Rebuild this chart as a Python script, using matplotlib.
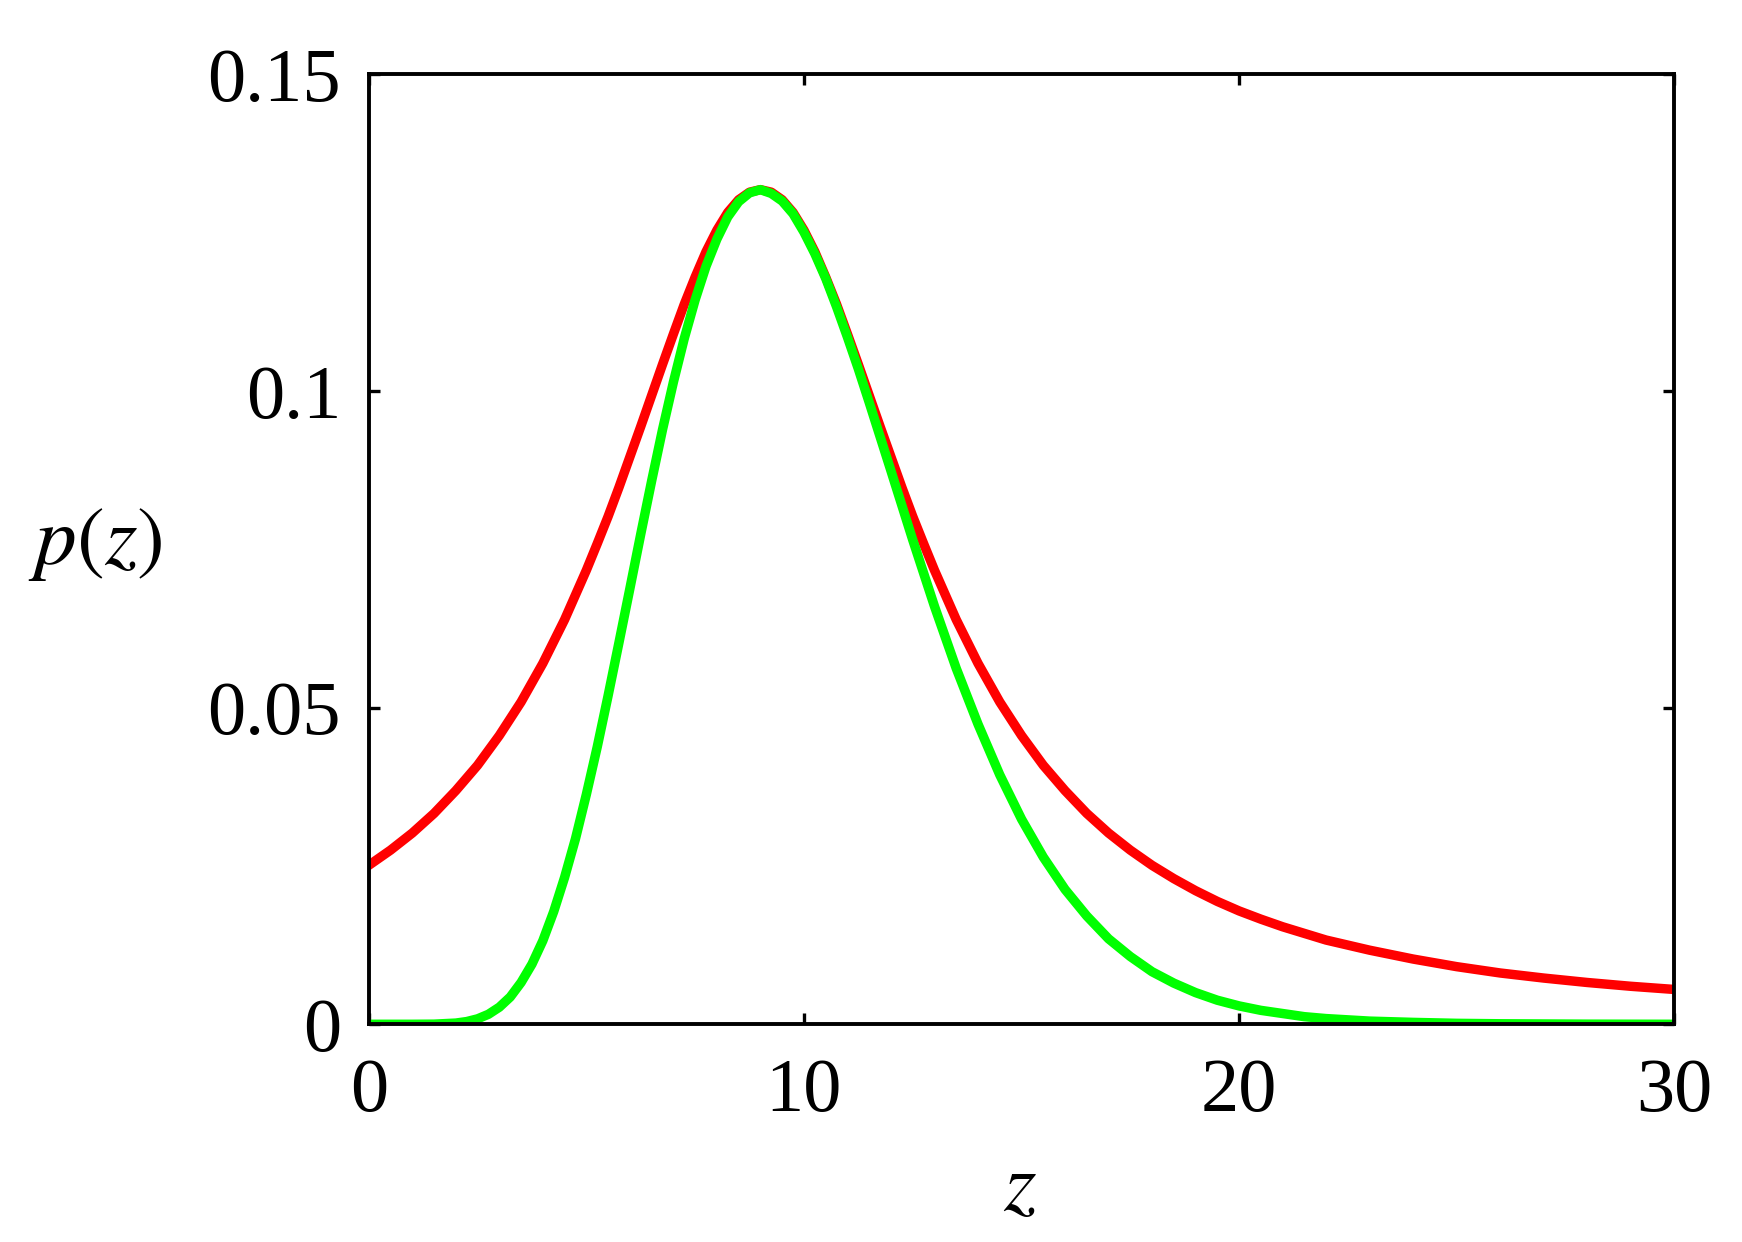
import matplotlib
matplotlib.use("Agg")
from matplotlib import pyplot as plt

# values
z_red = [0, 0.5, 1, 1.5, 2, 2.5, 3, 3.5, 4, 4.5, 5, 5.25, 5.5, 5.75, 6, 6.25,
         6.5, 6.75, 7, 7.25, 7.5, 7.75, 8, 8.25, 8.5, 8.75, 9, 9.25, 9.5,
         9.75, 10, 10.25, 10.5, 10.75, 11, 11.25, 11.5, 11.75, 12, 12.25,
         12.5, 12.75, 13, 13.5, 14, 14.5, 15, 15.5, 16, 16.5, 17, 17.5, 18,
         18.5, 19, 19.5, 20, 20.5, 21, 22, 23, 24, 25, 26, 27, 28, 29, 30]
p_red = [0.0251, 0.0275, 0.0302, 0.0333, 0.0369, 0.0409, 0.0456, 0.0509,
         0.0570, 0.0639, 0.0717, 0.0759, 0.0802, 0.0848, 0.0896, 0.0944,
         0.0993, 0.1042, 0.1090, 0.1137, 0.1180, 0.1220, 0.1254, 0.1282,
         0.1302, 0.1314, 0.1318, 0.1314, 0.1302, 0.1282, 0.1254, 0.1220,
         0.1180, 0.1137, 0.1090, 0.1042, 0.0993, 0.0944, 0.0896, 0.0848,
         0.0802, 0.0759, 0.0717, 0.0639, 0.0570, 0.0509, 0.0456, 0.0409,
         0.0369, 0.0333, 0.0302, 0.0275, 0.0251, 0.0230, 0.0211, 0.0194,
         0.0179, 0.0166, 0.0154, 0.0133, 0.0117, 0.0103, 0.0091, 0.0081,
         0.0073, 0.0066, 0.0060, 0.0055]

z_green = [0, 0.5, 1, 1.5, 2, 2.25, 2.5, 2.75, 3, 3.25, 3.5, 3.75, 4, 4.25,
           4.5, 4.75, 5, 5.25, 5.5, 5.75, 6, 6.25, 6.5, 6.75, 7, 7.25, 7.5,
           7.75, 8, 8.25, 8.5, 8.75, 9, 9.25, 9.5, 9.75, 10, 10.25, 10.5,
           10.75, 11, 11.25, 11.5, 11.75, 12, 12.5, 13, 13.5, 14, 14.5, 15,
           15.5, 16, 16.5, 17, 17.5, 18, 18.5, 19, 19.5, 20, 20.5, 21, 21.5,
           22, 23, 24, 25, 26, 28, 30]
p_green = [0.0, 0.0, 0.0, 0.00002, 0.00019, 0.00043, 0.00086, 0.00158,
           0.0027, 0.0043, 0.0066, 0.0095, 0.0132, 0.0178, 0.0232, 0.0293,
           0.0363, 0.0438, 0.0519, 0.0603, 0.0688, 0.0774, 0.0858, 0.0939,
           0.1014, 0.1083, 0.1144, 0.1197, 0.1240, 0.1275, 0.1299, 0.1313,
           0.1318, 0.1312, 0.1300, 0.1280, 0.1251, 0.1217, 0.1178, 0.1133,
           0.1085, 0.1035, 0.0982, 0.0928, 0.0874, 0.0765, 0.0660, 0.0562,
           0.0474, 0.0394, 0.0324, 0.0264, 0.0213, 0.0171, 0.0135, 0.0107,
           0.0083, 0.0065, 0.0050, 0.0038, 0.0029, 0.0022, 0.0017, 0.0012,
           0.0009, 0.0005, 0.0003, 0.00015, 0.00008, 0.00002, 0.0]

x_ticks = [0, 10, 20, 30]
y_ticks = [0, 0.05, 0.1, 0.15]
y_tick_labels = ["0", "0.05", "0.1", "0.15"]

plt.rcParams["font.family"] = ["Liberation Serif", "DejaVu Serif"]
plt.rcParams["mathtext.fontset"] = "stix"

fig = plt.figure(figsize=(17.42, 12.42), dpi=100)
ax = fig.add_axes([0.2117, 0.1753, 0.7494, 0.7648])

ax.plot(z_red, p_red, color="#ff0000", lw=6.8, solid_joinstyle="round")
ax.plot(z_green, p_green, color="#00ff00", lw=6.8, solid_joinstyle="round")

ax.set_xlim(0, 30)
ax.set_ylim(0, 0.15)
ax.set_xticks(x_ticks)
ax.set_xticklabels([str(t) for t in x_ticks])
ax.set_yticks(y_ticks)
ax.set_yticklabels(y_tick_labels)

ax.tick_params(direction="in", length=8, width=2.4, top=True, right=True,
               labelsize=55)
ax.tick_params(axis="x", pad=24)
ax.tick_params(axis="y", pad=20)
for spine in ax.spines.values():
    spine.set_linewidth(2.8)

ax.set_xlabel(r"$z$", fontsize=60, va="center")
ax.set_ylabel(r"$p(z)$", fontsize=60, rotation=0, va="center", ha="center")
ax.xaxis.set_label_coords(0.499, -0.175)
ax.yaxis.set_label_coords(-0.21, 0.505)

fig.savefig("out.png", dpi=100)
